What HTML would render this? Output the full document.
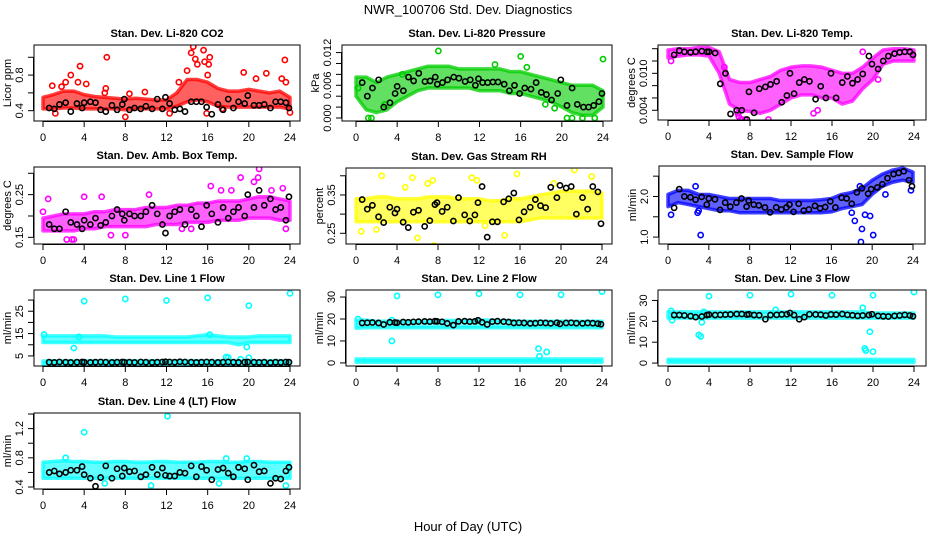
<!DOCTYPE html>
<html><head><meta charset="utf-8"><style>
html,body{margin:0;padding:0;background:#fff}
svg{display:block}
text{font-family:"Liberation Sans",Arial,sans-serif}
</style></head><body>
<svg id="c" width="936" height="540" viewBox="0 0 936 540">
<text x="468" y="14" text-anchor="middle" font-size="13">NWR_100706  Std. Dev. Diagnostics</text>
<text x="468" y="531" text-anchor="middle" font-size="13">Hour of Day (UTC)</text>
</svg>
<script>
// ---- shared data ----
const blackHours=[0.6,1.1,1.6,2.2,2.7,3.3,3.8,4.0,4.6,5.1,5.6,6.1,6.7,7.2,7.7,7.9,8.4,8.9,9.5,10.0,10.6,11.1,11.6,11.9,12.3,12.8,13.3,13.8,14.4,14.9,15.4,15.9,16.4,17.0,17.5,18.0,18.5,19.0,19.6,19.9,20.5,21.0,21.5,22.1,22.6,23.1,23.6,23.9];
const bandHours=[0,1,2,3,4,5,6,7,8,9,10,11,12,13,14,15,16,17,18,19,20,21,22,23,24];
const xTicks=[0,4,8,12,16,20,24];

// CO2
const co2Black=[0.43,0.42,0.47,0.49,0.39,0.48,0.43,0.49,0.50,0.49,0.41,0.39,0.46,0.41,0.47,0.53,0.41,0.43,0.42,0.45,0.42,0.53,0.42,0.55,0.48,0.41,0.42,0.39,0.50,0.50,0.50,0.44,0.36,0.47,0.41,0.53,0.43,0.50,0.48,0.57,0.46,0.46,0.47,0.43,0.50,0.50,0.49,0.43];
const co2Lo=[0.42,0.42,0.43,0.43,0.42,0.42,0.42,0.42,0.41,0.42,0.42,0.42,0.42,0.45,0.50,0.52,0.50,0.45,0.44,0.44,0.44,0.44,0.44,0.44,0.42];
const co2Hi=[0.55,0.58,0.62,0.62,0.58,0.56,0.55,0.54,0.53,0.54,0.53,0.52,0.52,0.60,0.75,0.75,0.72,0.65,0.62,0.62,0.64,0.62,0.60,0.62,0.55];
const co2ScatterT=[0.9,1.8,2.2,2.7,3.4,3.6,4.2,6.1,6.2,6.0,8.0,8.4,9.9,13.2,14.0,14.4,14.6,14.8,15.0,15.6,15.7,16.0,16.2,16.1,15.9,19.5,20.7,21.7,23.2,23.5,23.6,24.0,1.2,12.3,17.4];
const co2ScatterV=[0.68,0.67,0.72,0.80,0.72,0.90,0.70,0.65,1.00,0.60,0.33,0.59,0.61,0.72,0.85,1.05,1.12,0.98,0.92,1.08,0.95,0.80,1.00,0.92,0.37,0.83,0.76,0.82,0.76,0.97,0.72,0.38,0.37,0.37,0.42];
// Pressure
const prBlack=[0.0065,0.004,0.0055,0.007,0.002,0.0028,0.0045,0.0058,0.005,0.0075,0.0068,0.0082,0.0067,0.0068,0.0075,0.0062,0.0065,0.007,0.0075,0.0073,0.0067,0.007,0.006,0.0072,0.0065,0.0065,0.0066,0.0066,0.0062,0.005,0.006,0.0045,0.0055,0.0053,0.0065,0.0047,0.0043,0.0033,0.0045,0.007,0.0023,0.0055,0.0025,0.002,0.002,0.0023,0.003,0.0045];
const prLo=[0.004,0.0015,0.001,0.0015,0.003,0.004,0.005,0.0055,0.0055,0.0055,0.0055,0.0055,0.005,0.005,0.005,0.0045,0.0045,0.004,0.0035,0.003,0.002,0.001,0.0005,0.0005,0.002];
const prHi=[0.0075,0.0075,0.0065,0.0075,0.008,0.0085,0.009,0.0095,0.0095,0.0095,0.009,0.009,0.009,0.009,0.009,0.0085,0.0085,0.008,0.0075,0.007,0.0065,0.006,0.006,0.006,0.005];
const prScatterT=[1.2,1.5,8.0,16,24,20.5,21,22,23.2,0.2,2.8,4.5,13.5,16.6,18.4,19.3];
const prScatterV=[0,0,0.0123,0.0113,0.0108,0,0,0,0,0.0055,0.0025,0.008,0.0098,0.0093,0.0025,0.0018];
// Li-820 temp
const ltBlack=[0.0130,0.0137,0.0135,0.0134,0.0135,0.0136,0.0135,0.0135,0.0133,0.0083,0.0100,0.0034,0.0040,0.0040,0.0025,0.0070,0.0036,0.0075,0.0078,0.0082,0.0087,0.0053,0.0064,0.0100,0.0067,0.0085,0.0090,0.0087,0.0058,0.0079,0.0060,0.0100,0.0060,0.0085,0.0095,0.0084,0.0090,0.0099,0.0128,0.0115,0.0107,0.0120,0.0128,0.0132,0.0134,0.0135,0.0135,0.0130];
const ltLo=[0.0125,0.0128,0.0130,0.0130,0.0128,0.0100,0.0050,0.0040,0.0038,0.0035,0.0040,0.0050,0.0060,0.0065,0.0065,0.0060,0.0060,0.0050,0.0055,0.0075,0.0090,0.0115,0.0120,0.0120,0.0120];
const ltHi=[0.0138,0.0140,0.0140,0.0142,0.0142,0.0135,0.0090,0.0085,0.0085,0.0090,0.0095,0.0105,0.0110,0.0112,0.0112,0.0110,0.0105,0.0100,0.0100,0.0110,0.0125,0.0138,0.0140,0.0140,0.0138];
const ltScatterT=[0.3,6.9,7.1,7.2,7.5,9.8,14.2,14.6,6.8,19.0,20.5,5.5];
const ltScatterV=[0.012,0.003,0.0025,0.0025,0.0025,0.0025,0.0035,0.004,0.0035,0.0135,0.009,0.011];
// Amb box temp
const abBlack=[0.18,0.17,0.17,0.21,0.185,0.18,0.17,0.19,0.18,0.195,0.178,0.185,0.20,0.215,0.205,0.19,0.205,0.20,0.20,0.21,0.225,0.205,0.18,0.16,0.20,0.21,0.215,0.18,0.215,0.20,0.175,0.225,0.205,0.185,0.22,0.195,0.21,0.22,0.20,0.25,0.22,0.26,0.225,0.24,0.215,0.22,0.19,0.245];
const abLo=[0.165,0.165,0.165,0.165,0.17,0.17,0.175,0.175,0.175,0.175,0.175,0.18,0.18,0.18,0.185,0.185,0.185,0.19,0.19,0.19,0.195,0.195,0.195,0.19,0.19];
const abHi=[0.195,0.20,0.205,0.205,0.205,0.21,0.21,0.215,0.215,0.215,0.22,0.22,0.22,0.225,0.225,0.23,0.23,0.235,0.235,0.235,0.24,0.245,0.245,0.24,0.235];
const abScatterT=[0,0.5,2.3,2.8,3.0,4.0,5.7,10.3,16.3,17.3,19.2,20.5,21.0,20.9,22.2,23.3,23.6,6.6,8.0,13.5,14.4,18.3];
const abScatterV=[0.21,0.24,0.145,0.145,0.145,0.245,0.245,0.25,0.27,0.26,0.29,0.28,0.31,0.29,0.26,0.265,0.17,0.155,0.155,0.17,0.17,0.26];
// RH
const rhBlack=[0.338,0.313,0.323,0.293,0.278,0.318,0.303,0.313,0.279,0.265,0.305,0.31,0.268,0.283,0.325,0.33,0.307,0.318,0.282,0.343,0.298,0.282,0.298,0.33,0.372,0.24,0.28,0.28,0.332,0.34,0.355,0.285,0.306,0.318,0.338,0.322,0.317,0.37,0.343,0.375,0.368,0.372,0.30,0.343,0.313,0.372,0.358,0.275];
const rhLo=[0.28,0.28,0.28,0.28,0.28,0.28,0.28,0.28,0.28,0.28,0.28,0.28,0.28,0.28,0.28,0.28,0.28,0.285,0.29,0.29,0.29,0.29,0.29,0.29,0.29];
const rhHi=[0.34,0.34,0.345,0.345,0.34,0.34,0.34,0.345,0.345,0.345,0.34,0.34,0.34,0.335,0.335,0.34,0.34,0.345,0.35,0.355,0.36,0.36,0.36,0.36,0.355];
const rhScatterT=[0.5,2.5,5.5,7.0,7.5,7.6,4.8,11.3,11.8,15.7,14.5,21.3,23.0,19.3,12.6,2.0,6.0];
const rhScatterV=[0.255,0.40,0.395,0.38,0.388,0.218,0.37,0.395,0.388,0.405,0.245,0.415,0.398,0.38,0.27,0.26,0.238];
// Sample flow
const sfBlack=[1.72,2.18,2.0,1.98,1.92,1.99,1.80,1.95,1.93,1.67,1.85,1.75,1.85,1.95,1.75,1.90,1.80,1.78,1.73,1.61,1.73,1.68,1.73,1.80,1.62,1.82,1.65,1.68,1.77,1.71,1.74,1.88,1.73,1.97,1.95,1.82,2.10,2.20,2.07,2.18,2.22,2.30,2.45,2.55,2.58,2.62,2.40,2.25];
const sfLo=[1.75,1.85,1.80,1.75,1.70,1.65,1.65,1.60,1.60,1.60,1.60,1.60,1.60,1.60,1.60,1.60,1.62,1.70,1.75,1.80,2.05,2.25,2.35,2.40,2.35];
const sfHi=[2.05,2.15,2.15,2.05,2.05,2.00,1.95,1.95,1.95,1.95,1.95,1.90,1.90,1.90,1.90,1.92,1.95,2.05,2.10,2.20,2.40,2.55,2.65,2.70,2.60];
const sfScatterT=[0.3,2.7,3.0,3.2,18.0,18.3,18.8,19.0,18.9,19.3,19.8,20.1,21.3,23.8,2.9];
const sfScatterV=[1.55,2.25,1.65,1.05,1.60,1.40,2.25,1.20,0.88,1.55,1.52,1.05,2.05,2.15,1.6];
// Line 1
const l1Black=[2.2,2.1,2.3,2.2,2.1,2.2,2.3,2.2,2.1,2.2,2.3,2.2,2.1,2.2,2.3,2.2,2.2,2.1,2.3,2.2,2.1,2.2,2.3,2.4,2.3,2.2,2.4,2.3,2.2,2.1,2.2,2.3,2.2,2.1,2.2,2.3,2.2,2.1,2.2,2.3,2.2,2.1,2.2,2.0,2.2,2.1,2.3,2.2];
const l1Lo=[11,11,11,11,11,11,11,11,11,11,11,11,11,11,11,11,11,11,11,10,11,11,11,11,11];
const l1Hi=[14,14,14,14,14,14,14,13.5,13.5,13.5,13.5,13.5,13.5,13.5,13.5,14,14.5,14,13.5,13.5,13.5,14,14,14,14];
const l1Lo2=[1.2,1.2,1.2,1.2,1.2,1.2,1.2,1.2,1.2,1.2,1.2,1.2,1.2,1.2,1.2,1.2,1.2,1.2,1.2,1.2,1.2,1.2,1.2,1.2,1.2];
const l1Hi2=[2.8,2.8,2.8,2.8,2.8,2.8,2.8,2.8,2.8,2.8,2.8,2.8,2.8,2.8,2.8,2.8,2.8,2.8,2.8,2.8,2.8,2.8,2.8,2.8,2.8];
const l1ScatterT=[4,8,12,16,20,24,3.0,17.8,18.0,19.2,19.8,20.0,0.1,3.5,16.2];
const l1ScatterV=[29.5,30.5,29.8,31,27.5,33,8.5,4.5,4.3,3.5,9,4.2,14.5,13.5,14.5];
// Line 2
const l2Black=[18.2,18.3,18.4,18.2,17.5,18.5,18.4,18.3,18.6,18.5,18.7,18.8,18.9,18.8,19.0,18.9,18.7,18.0,17.2,18.9,19.0,18.8,18.9,19.4,18.5,17.5,18.8,19.0,18.8,18.6,18.2,18.3,18.2,18.0,18.1,18.3,18.2,18.0,18.3,17.8,18.2,18.3,18.1,18.0,18.2,18.1,17.9,17.6];
const l2Lo=[15.8,16,16,16,16,16,16,16,16,16,16,16,16,16,16,16,16,16,16,16,16,16,16,16,16];
const l2Hi=[19.5,19.5,19,19,19,19,19,19,19.3,19.3,19.3,19.3,19.5,19.5,19.3,19.3,19,19,19,19,19,19,19,19,19];
const l2Lo2=[0.3,0.3,0.3,0.3,0.3,0.3,0.3,0.3,0.3,0.3,0.3,0.3,0.3,0.3,0.3,0.3,0.3,0.3,0.3,0.3,0.3,0.3,0.3,0.3,0.3];
const l2Hi2=[1.8,1.8,1.8,1.8,1.8,1.8,1.8,1.8,1.8,1.8,1.8,1.8,1.8,1.8,1.8,1.8,1.8,1.8,1.8,1.8,1.8,1.8,1.8,1.8,1.8];
const l2ScatterT=[0.2,3.5,4,8,12,16,20,24,17.8,17.9,18.6,3.5];
const l2ScatterV=[20,10,30.5,31,31.5,31,31,32.5,6.5,3,5,19.5];
// Line 3
const l3Black=[23.0,23.0,22.8,22.5,22.0,22.3,23.0,23.2,23.0,23.1,23.2,23.3,23.5,23.5,23.2,23.4,23.0,22.9,21.0,23.0,23.1,23.3,23.4,24.0,23.0,21.0,22.0,23.4,23.3,23.2,22.8,23.3,23.2,23.5,23.1,22.9,22.6,22.8,23.0,23.4,22.6,22.4,22.3,22.6,22.8,23.1,22.8,22.4];
const l3Lo=[21.5,21.5,21.5,21.5,21.5,21.5,21.5,21.5,21.5,21.5,21.5,21.5,21.5,21.5,21.5,21.5,21.5,21.5,21.5,21.5,21.5,21.5,21.5,21.5,21.5];
const l3Hi=[24.5,24.5,24.5,24.5,24.5,24.5,24.5,24.5,24.5,24.5,24.5,24.5,24.5,24.5,24.5,24.5,24.5,24.5,24.5,24.5,24,24,24,24,24];
const l3Lo2=l2Lo2, l3Hi2=l2Hi2;
const l3ScatterT=[0.3,0.4,3.0,3.2,3.3,3.5,4,8,12,16,20,24,19.0,19.2,19.3,19.7,20,10.5];
const l3ScatterV=[25,20.5,13.5,12.8,19.5,24.5,32,32.5,33,32.5,32.5,34,26.5,7,6,15,5.5,25.5];
// Line 4
const l4Black=[0.60,0.62,0.58,0.60,0.63,0.63,0.68,0.57,0.52,0.41,0.53,0.69,0.52,0.65,0.55,0.66,0.61,0.62,0.54,0.57,0.67,0.57,0.66,0.56,0.55,0.55,0.60,0.59,0.69,0.54,0.68,0.63,0.50,0.64,0.66,0.59,0.54,0.67,0.65,0.50,0.70,0.61,0.62,0.45,0.52,0.51,0.62,0.67];
const l4Lo=[0.52,0.52,0.52,0.52,0.52,0.52,0.52,0.52,0.52,0.52,0.52,0.52,0.52,0.52,0.52,0.52,0.52,0.52,0.52,0.52,0.52,0.52,0.52,0.52,0.52];
const l4Hi=[0.74,0.75,0.76,0.75,0.75,0.74,0.74,0.75,0.75,0.74,0.74,0.75,0.75,0.74,0.74,0.74,0.75,0.75,0.74,0.74,0.75,0.75,0.74,0.74,0.74];
const l4ScatterT=[4,12.1,10.5,23.6,2.2,17.8,19.8,6.0,17.1];
const l4ScatterV=[1.15,1.37,0.42,0.42,0.80,0.79,0.79,0.45,0.45];

// ---- panel layout ----
const panels=[
 {name:'co2',title:'Stan. Dev. Li-820 CO2',yl:'Licor ppm',L:34,R:300,T:45,B:121,x0:43,x1:290,y0:0.284,y1:1.138,ticks:[0.4,0.6,0.8,1.0],labs:[0.4,0.8],fmt:1,col:'#ff0000',black:co2Black,lo:co2Lo,hi:co2Hi,st:co2ScatterT,sv:co2ScatterV},
 {name:'pressure',title:'Stan. Dev. Li-820 Pressure',yl:'kPa',L:342,R:612,T:45,B:121,x0:356,x1:603,y0:-0.00055,y1:0.01339,ticks:[0,0.002,0.004,0.006,0.008,0.010,0.012],labs:[0,0.006,0.012],fmt:3,col:'#00cd00',black:prBlack,lo:prLo,hi:prHi,st:prScatterT,sv:prScatterV},
 {name:'li820-temp',title:'Stan. Dev. Li-820 Temp.',yl:'degrees C',L:658,R:926,T:45,B:120,x0:668,x1:914,y0:0.00242,y1:0.0146,ticks:[0.004,0.006,0.008,0.010,0.012,0.014],labs:[0.004,0.010],fmt:3,col:'#ff00ff',black:ltBlack,lo:ltLo,hi:ltHi,st:ltScatterT,sv:ltScatterV},
 {name:'amb-box-temp',title:'Stan. Dev. Amb. Box Temp.',yl:'degrees C',L:34,R:300,T:167,B:244,x0:43,x1:290,y0:0.1344,y1:0.3147,ticks:[0.15,0.20,0.25,0.30],labs:[0.15,0.25],fmt:2,col:'#ff00ff',black:abBlack,lo:abLo,hi:abHi,st:abScatterT,sv:abScatterV},
 {name:'gas-stream-rh',title:'Stan. Dev. Gas Stream RH',yl:'percent',L:346,R:612,T:168,B:244,x0:356,x1:602,y0:0.2221,y1:0.4203,ticks:[0.25,0.30,0.35,0.40],labs:[0.25,0.35],fmt:2,col:'#ffff00',black:rhBlack,lo:rhLo,hi:rhHi,st:rhScatterT,sv:rhScatterV},
 {name:'sample-flow',title:'Stan. Dev. Sample Flow',yl:'ml/min',L:659,R:925,T:166,B:244,x0:668,x1:913,y0:0.83,y1:2.75,ticks:[1.0,1.5,2.0,2.5],labs:[1.0,2.0],fmt:1,col:'#0000ff',black:sfBlack,lo:sfLo,hi:sfHi,st:sfScatterT,sv:sfScatterV},
 {name:'line1-flow',title:'Stan. Dev. Line 1 Flow',yl:'ml/min',L:34,R:300,T:290,B:366,x0:43,x1:290,y0:0.5,y1:34.5,ticks:[5,10,15,20,25,30],labs:[5,15,25],fmt:0,col:'#00ffff',black:l1Black,lo:l1Lo,hi:l1Hi,lo2:l1Lo2,hi2:l1Hi2,st:l1ScatterT,sv:l1ScatterV},
 {name:'line2-flow',title:'Stan. Dev. Line 2 Flow',yl:'ml/min',L:346,R:612,T:290,B:366,x0:356,x1:602,y0:-1.4,y1:33.2,ticks:[0,10,20,30],labs:[0,10,20,30],fmt:0,col:'#00ffff',black:l2Black,lo:l2Lo,hi:l2Hi,lo2:l2Lo2,hi2:l2Hi2,st:l2ScatterT,sv:l2ScatterV},
 {name:'line3-flow',title:'Stan. Dev. Line 3 Flow',yl:'ml/min',L:658,R:926,T:290,B:366,x0:668,x1:914,y0:-1.4,y1:35,ticks:[0,10,20,30],labs:[0,10,20,30],fmt:0,col:'#00ffff',black:l3Black,lo:l3Lo,hi:l3Hi,lo2:l3Lo2,hi2:l3Hi2,st:l3ScatterT,sv:l3ScatterV},
 {name:'line4-flow',title:'Stan. Dev. Line 4 (LT) Flow',yl:'ml/min',L:34,R:300,T:413,B:489,x0:43,x1:290,y0:0.373,y1:1.414,ticks:[0.4,0.6,0.8,1.0,1.2,1.4],labs:[0.4,0.8,1.2],fmt:1,col:'#00ffff',black:l4Black,lo:l4Lo,hi:l4Hi,st:l4ScatterT,sv:l4ScatterV}
];
const NS='http://www.w3.org/2000/svg';
const svg=document.getElementById('c');
function mk(tag,attrs,parent){const e=document.createElementNS(NS,tag);for(const k in attrs)e.setAttribute(k,attrs[k]);(parent||svg).appendChild(e);return e;}
panels.forEach(p=>{
  const g=mk('g',{});
  
  
  const sx=v=>p.x0+(v/24)*(p.x1-p.x0);
  const sy=v=>p.B-(v-p.y0)/(p.y1-p.y0)*(p.B-p.T);
  const cl='clip-'+p.name;
  const cp=mk('clipPath',{id:cl},g);mk('rect',{x:p.L,y:p.T,width:p.R-p.L,height:p.B-p.T},cp);
  const plot=mk('g',{'clip-path':'url(#'+cl+')'},g);
  function band(lo,hi,nm){
    let d='M'+bandHours.map((h,i)=>sx(h)+','+sy(hi[i])).join(' L');
    d+=' L'+bandHours.slice().reverse().map((h,j)=>{const i=bandHours.length-1-j;return sx(h)+','+sy(lo[i]);}).join(' L')+'Z';
    const b=mk('path',{d:d,fill:p.col,'fill-opacity':0.62,stroke:p.col,'stroke-opacity':0.75,'stroke-width':3.5,'stroke-linejoin':'round'},plot);
    
    
  }
  band(p.lo,p.hi,'band-'+p.name);
  if(p.lo2) band(p.lo2,p.hi2,'low-band-'+p.name);
  p.st.forEach((t,i)=>{
    const c=mk('circle',{cx:sx(t),cy:sy(p.sv[i]),r:2.6,fill:'none',stroke:p.col,'stroke-width':1.6},plot);
    
    
  });
  blackHours.forEach((t,i)=>{
    const c=mk('circle',{cx:sx(t),cy:sy(p.black[i]),r:2.6,fill:'none',stroke:'#000','stroke-width':1.6},plot);
    
    
  });
  const box=mk('rect',{x:p.L,y:p.T,width:p.R-p.L,height:p.B-p.T,fill:'none',stroke:'#000','stroke-width':1},g);
  
  
  // x axis
  mk('line',{x1:sx(0),x2:sx(24),y1:p.B+0.5,y2:p.B+0.5,stroke:'#000'},g);
  xTicks.forEach(v=>{
    mk('line',{x1:sx(v),x2:sx(v),y1:p.B,y2:p.B+6,stroke:'#000'},g);
    const t=mk('text',{x:sx(v),y:p.B+20,'text-anchor':'middle','font-size':11},g);t.textContent=v;
    
    
  });
  // y axis
  const ya=p.ticks[0],yb=p.ticks[p.ticks.length-1];
  mk('line',{x1:p.L-0.5,x2:p.L-0.5,y1:sy(ya),y2:sy(yb),stroke:'#000'},g);
  p.ticks.forEach(v=>mk('line',{x1:p.L-6,x2:p.L,y1:sy(v),y2:sy(v),stroke:'#000'},g));
  p.labs.forEach(v=>{
    const x=p.L-11,y=sy(v);
    const t=mk('text',{x:x,y:y,'text-anchor':'middle','font-size':11,transform:'rotate(-90 '+x+' '+y+')'},g);
    t.textContent=v.toFixed(p.fmt);
    
    
  });
  const yx=p.L-23,yy=(p.T+p.B)/2;
  const yt=mk('text',{x:yx,y:yy,'text-anchor':'middle','font-size':11,transform:'rotate(-90 '+yx+' '+yy+')'},g);
  yt.textContent=p.yl;
  
  
  const tt=mk('text',{x:(p.L+p.R)/2,y:p.T-8,'text-anchor':'middle','font-size':11,'font-weight':'bold'},g);
  tt.textContent=p.title;
  
  
});
</script>
</body></html>
